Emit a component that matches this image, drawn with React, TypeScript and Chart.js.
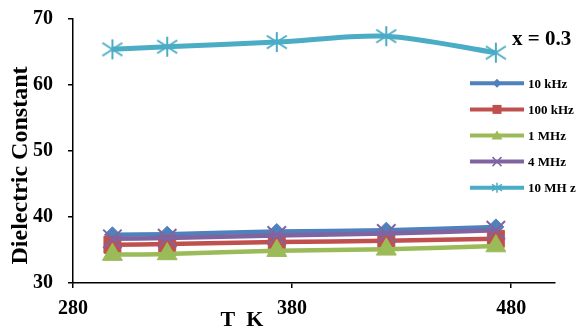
import React, { useEffect, useRef } from 'react';
import { Chart, registerables } from 'chart.js';

Chart.register(...registerables);

const temperatures = [298, 323, 373, 423, 473];
const seriesLabels = ['10 kHz', '100 kHz', '1 MHz', '4 MHz', '10 MH z'];
const k10kHz = [37.3, 37.4, 37.8, 38.0, 38.5];
const k100kHz = [35.8, 35.9, 36.2, 36.4, 36.7];
const k1MHz = [34.3, 34.4, 34.9, 35.1, 35.6];
const k4MHz = [36.7, 36.8, 37.2, 37.5, 38.0];
const k10MHz = [65.4, 65.8, 66.5, 67.4, 64.9];
const xTicks = [280, 380, 480];
const yTicks = [30, 40, 50, 60, 70];

const seriesValues = [k10kHz, k100kHz, k1MHz, k4MHz, k10MHz];
const colors = ['#4F81BD', '#C0504D', '#9BBB59', '#8064A2', '#4BACC6'];
const markerKinds = ['diamond', 'square', 'triangle', 'x', 'star'];
const FONT = "'Times New Roman', 'Liberation Serif', serif";

function makeAsterisk(size: number, color: string, lw: number) {
  const c = document.createElement('canvas');
  c.width = size;
  c.height = size;
  const ctx = c.getContext('2d')!;
  const cx = size / 2;
  const r = size / 2 - 1;
  ctx.strokeStyle = color;
  ctx.lineWidth = lw;
  ctx.beginPath();
  ctx.moveTo(cx, cx - r);
  ctx.lineTo(cx, cx + r);
  ctx.moveTo(cx - r, cx - r * 0.65);
  ctx.lineTo(cx + r, cx + r * 0.65);
  ctx.moveTo(cx + r, cx - r * 0.65);
  ctx.lineTo(cx - r, cx + r * 0.65);
  ctx.stroke();
  return c;
}

function drawLegendMarker(ctx: CanvasRenderingContext2D, kind: string, x: number, y: number, color: string) {
  ctx.save();
  ctx.fillStyle = color;
  ctx.strokeStyle = color;
  ctx.beginPath();
  if (kind === 'diamond') {
    const r = 4.5;
    ctx.moveTo(x, y - r);
    ctx.lineTo(x + r, y);
    ctx.lineTo(x, y + r);
    ctx.lineTo(x - r, y);
    ctx.closePath();
    ctx.fill();
  } else if (kind === 'square') {
    ctx.rect(x - 4.5, y - 4.5, 9, 9);
    ctx.fill();
  } else if (kind === 'triangle') {
    ctx.moveTo(x, y - 5);
    ctx.lineTo(x + 5.5, y + 4);
    ctx.lineTo(x - 5.5, y + 4);
    ctx.closePath();
    ctx.fill();
  } else if (kind === 'x') {
    ctx.lineWidth = 1.5;
    const r = 4.5;
    ctx.moveTo(x - r, y - r);
    ctx.lineTo(x + r, y + r);
    ctx.moveTo(x + r, y - r);
    ctx.lineTo(x - r, y + r);
    ctx.stroke();
  } else {
    ctx.lineWidth = 1.5;
    const r = 5;
    ctx.moveTo(x, y - r);
    ctx.lineTo(x, y + r);
    ctx.moveTo(x - r, y - r * 0.65);
    ctx.lineTo(x + r, y + r * 0.65);
    ctx.moveTo(x + r, y - r * 0.65);
    ctx.lineTo(x - r, y + r * 0.65);
    ctx.stroke();
  }
  ctx.restore();
}

const overlayPlugin = {
  id: 'overlay',
  afterDraw(chart: any) {
    const ctx: CanvasRenderingContext2D = chart.ctx;
    ctx.save();
    // legend
    const lx0 = 470;
    const lx1 = 524;
    const tx = 528;
    const y0 = 83.3;
    const dy = 26.1;
    chart.data.datasets.forEach((ds: any, i: number) => {
      const y = y0 + i * dy;
      ctx.strokeStyle = ds.borderColor;
      ctx.lineWidth = 4;
      ctx.beginPath();
      ctx.moveTo(lx0, y);
      ctx.lineTo(lx1, y);
      ctx.stroke();
      drawLegendMarker(ctx, markerKinds[i], (lx0 + lx1) / 2, y, ds.borderColor);
      ctx.fillStyle = '#000';
      ctx.font = `bold 13px ${FONT}`;
      ctx.textAlign = 'left';
      ctx.textBaseline = 'middle';
      ctx.fillText(ds.label, tx, y + 1);
    });
    // annotation
    ctx.fillStyle = '#000';
    ctx.font = `bold 21px ${FONT}`;
    ctx.textAlign = 'left';
    ctx.textBaseline = 'alphabetic';
    ctx.fillText('x = 0.3', 512, 45);
    // x title
    ctx.font = `bold 22px ${FONT}`;
    ctx.textAlign = 'center';
    ctx.fillText('T  K', 242, 326);
    // y title
    ctx.save();
    ctx.translate(27, 165.5);
    ctx.rotate(-Math.PI / 2);
    ctx.font = `bold 24px ${FONT}`;
    ctx.textAlign = 'center';
    ctx.textBaseline = 'alphabetic';
    ctx.fillText('Dielectric Constant', 0, 0);
    ctx.restore();
    ctx.restore();
  },
};

export default function App() {
  const ref = useRef<HTMLCanvasElement>(null);

  useEffect(() => {
    if (!ref.current) return;
    const star = makeAsterisk(22, colors[4], 2);
    const pointStyles: any[] = ['rectRot', 'rect', 'triangle', 'crossRot', star];
    const pointRadii = [8, 12, 11.5, 13, 10];
    const pointBorderWidths = [1, 1, 1, 2, 2];

    const datasets = seriesValues.map((vals, i) => ({
      label: seriesLabels[i],
      data: temperatures.map((t, j) => ({ x: t, y: vals[j] })),
      borderColor: colors[i],
      backgroundColor: colors[i],
      pointBackgroundColor: colors[i],
      pointBorderColor: colors[i],
      borderWidth: i === 4 ? 5 : 4.5,
      pointStyle: pointStyles[i],
      pointRadius: pointRadii[i],
      pointBorderWidth: pointBorderWidths[i],
      tension: 0.3,
      order: 4 - i,
      clip: false as any,
    }));

    const chart = new Chart(ref.current, {
      type: 'line',
      data: { datasets },
      options: {
        animation: false,
        responsive: false,
        layout: { autoPadding: false, padding: { top: 19, right: 23, left: 0, bottom: 0 } },
        plugins: {
          legend: { display: false },
          tooltip: { enabled: false },
        },
        scales: {
          x: {
            type: 'linear',
            min: 280,
            max: 500,
            afterBuildTicks: (s: any) => {
              s.ticks = xTicks.map((v) => ({ value: v }));
            },
            afterFit: (s: any) => {
              s.height = 44;
              s.paddingLeft = 0;
              s.paddingRight = 0;
            },
            grid: { drawOnChartArea: false, tickLength: 5, color: '#000', lineWidth: 1.5 },
            border: { color: '#000', width: 1.5 },
            ticks: {
              font: { family: FONT, size: 20, weight: 'bold' },
              color: '#000',
              padding: 9,
              maxRotation: 0,
              autoSkip: false,
            },
          },
          y: {
            min: 30,
            max: 70,
            afterBuildTicks: (s: any) => {
              s.ticks = yTicks.map((v) => ({ value: v }));
            },
            afterFit: (s: any) => {
              s.width = 73;
              s.paddingTop = 0;
              s.paddingBottom = 0;
            },
            grid: { drawOnChartArea: false, tickLength: 5, color: '#000', lineWidth: 1.5 },
            border: { color: '#000', width: 1.5 },
            ticks: {
              font: { family: FONT, size: 20, weight: 'bold' },
              color: '#000',
              padding: 15,
              autoSkip: false,
            },
          },
        },
      } as any,
      plugins: [overlayPlugin],
    });
    return () => chart.destroy();
  }, []);

  return (
    <div style={{ position: 'fixed', left: 0, top: 0, width: 578, height: 327, background: '#fff' }}>
      <canvas ref={ref} width={578} height={327} style={{ width: 578, height: 327, display: 'block' }} />
    </div>
  );
}
